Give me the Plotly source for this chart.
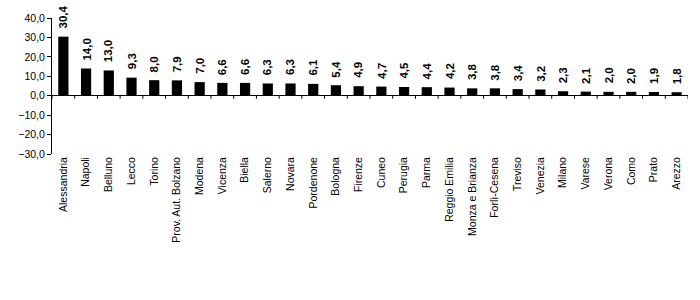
import plotly.graph_objects as go

categories = ["Alessandria", "Napoli", "Belluno", "Lecco", "Torino", "Prov. Aut. Bolzano",
              "Modena", "Vicenza", "Biella", "Salerno", "Novara", "Pordenone", "Bologna",
              "Firenze", "Cuneo", "Perugia", "Parma", "Reggio Emilia", "Monza e Brianza",
              "Forlì-Cesena", "Treviso", "Venezia", "Milano", "Varese", "Verona", "Como",
              "Prato", "Arezzo"]
values = [30.4, 14.0, 13.0, 9.3, 8.0, 7.9, 7.0, 6.6, 6.6, 6.3, 6.3, 6.1, 5.4, 4.9, 4.7,
          4.5, 4.4, 4.2, 3.8, 3.8, 3.4, 3.2, 2.3, 2.1, 2.0, 2.0, 1.9, 1.8]
y_ticks = [-30, -20, -10, 0, 10, 20, 30, 40]

font_family = "Liberation Sans, Arial, sans-serif"

xs = list(range(len(categories)))

fig = go.Figure()
fig.add_trace(go.Bar(
    x=xs,
    y=values,
    marker=dict(color="black", line=dict(width=0)),
    width=0.45,
    hoverinfo="skip",
))

annotations = []
for x, v in zip(xs, values):
    annotations.append(dict(
        x=x, y=v, xref="x", yref="y",
        text="<b>" + f"{v:.1f}".replace(".", ",") + "</b>",
        textangle=-90, showarrow=False,
        xanchor="center", yanchor="bottom", yshift=6,
        font=dict(family=font_family, size=11.5, color="black"),
    ))

# small tick marks on the zero line between categories
shapes = []
for i in range(len(categories) + 1):
    shapes.append(dict(type="line", xref="x", yref="y", x0=i - 0.5, x1=i - 0.5,
                       y0=0, y1=-1.6, line=dict(color="black", width=1)))

fig.update_layout(
    width=700, height=300,
    margin=dict(l=52, r=12, t=18, b=146),
    paper_bgcolor="white", plot_bgcolor="white",
    separators=",.",
    showlegend=False,
    shapes=shapes,
    annotations=annotations,
    font=dict(family=font_family, size=10, color="black"),
    xaxis=dict(
        range=[-0.5, len(categories) - 0.5],
        tickmode="array",
        tickvals=xs,
        ticktext=categories,
        tickangle=-90,
        showline=False, showgrid=False, zeroline=False,
        ticks="",
        tickfont=dict(family=font_family, size=10.5, color="black"),
    ),
    yaxis=dict(
        range=[-30, 40],
        tickmode="array",
        tickvals=y_ticks,
        tickformat=".1f",
        showline=True, linecolor="black", linewidth=1,
        ticks="outside", ticklen=4, tickcolor="black",
        showgrid=False,
        zeroline=True, zerolinecolor="black", zerolinewidth=1,
        tickfont=dict(family=font_family, size=10.5, color="black"),
    ),
)

fig.write_html("out.html")
